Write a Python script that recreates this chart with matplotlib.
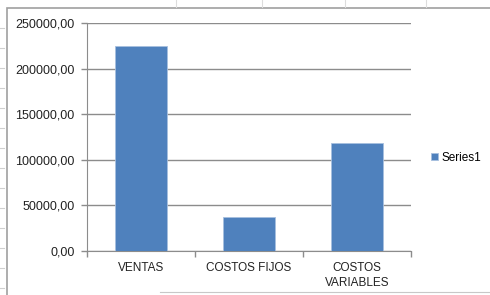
import matplotlib.pyplot as plt
from matplotlib.lines import Line2D
from matplotlib.patches import Rectangle
from matplotlib.ticker import FuncFormatter, MultipleLocator
import numpy as np

plt.rcParams["font.family"] = ["Liberation Sans", "DejaVu Sans"]

categorias = ["VENTAS", "COSTOS FIJOS", "COSTOS\nVARIABLES"]
valores = [224500, 37800, 118000]
serie = "Series1"

AZUL = "#4F81BD"
GRIS = "#8c8c8c"

fig = plt.figure(figsize=(4.9, 2.95), dpi=100)
ax = fig.add_axes([87 / 490, 1 - 251 / 295, 324 / 490, 228 / 295])

x = np.arange(len(categorias))
ax.bar(x, valores, width=0.49, color=AZUL, edgecolor="#a7bfdf", linewidth=0.6,
       label=serie, zorder=3)

ax.set_xlim(-0.5, len(categorias) - 0.5)
ax.set_ylim(0, 250000)
ax.yaxis.set_major_locator(MultipleLocator(50000))
ax.yaxis.set_major_formatter(FuncFormatter(lambda v, p: f"{v:.2f}".replace(".", ",")))
ax.grid(axis="y", color=GRIS, linewidth=1.0, zorder=0)

ax.set_xticks(x)
ax.set_xticklabels(categorias, fontsize=8.5, color="#222222", linespacing=1.3)
ax.set_xticks(np.arange(len(categorias) + 1) - 0.5, minor=True)
ax.tick_params(axis="x", which="major", length=0, pad=8)
ax.tick_params(axis="x", which="minor", length=4, color=GRIS, width=1)
ax.tick_params(axis="y", length=4, color=GRIS, width=1, pad=5, labelsize=9, labelcolor="#222222")

for lado in ["top", "right"]:
    ax.spines[lado].set_visible(False)
ax.spines["left"].set_color(GRIS)
ax.spines["bottom"].set_color(GRIS)

ax.legend(loc="center left", bbox_to_anchor=(1.03, 0.41), frameon=False,
          handlelength=0.6, handleheight=0.6, handletextpad=0.3, fontsize=8.5)

# marco del grafico y lineas de la hoja de calculo
fig.add_artist(Rectangle((7 / 490, -0.01), 1.0, 1 - 8 / 295 + 0.01, transform=fig.transFigure,
                         fill=False, edgecolor="#a0a0a0", linewidth=1.2))
for xp in [176, 262, 345, 426]:
    fig.add_artist(Line2D([xp / 490, xp / 490], [1 - 7 / 295, 1], color="#dddddd", linewidth=0.8))
for yp in np.arange(28, 290, 20):
    fig.add_artist(Line2D([0, 4 / 490], [1 - yp / 295, 1 - yp / 295], color="#d0d0d0", linewidth=0.8))
fig.add_artist(Line2D([160 / 490, 1], [1 - 292 / 295, 1 - 292 / 295], color="#c8c8c8", linewidth=0.8))

fig.savefig("out.png", dpi=100)
